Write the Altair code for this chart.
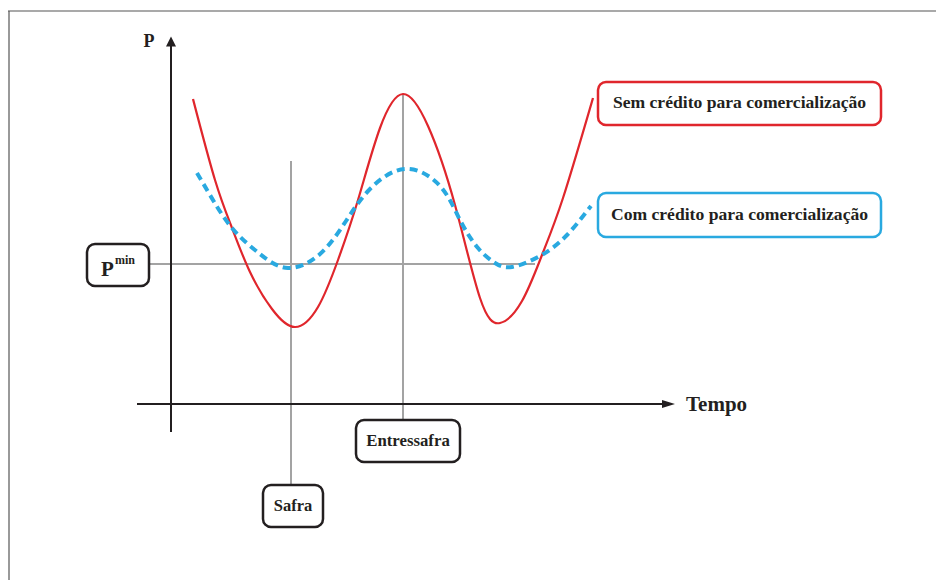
import altair as alt
import pandas as pd

# ---- diagram data (coordinates in reference-picture units: t to the right, p downward) ----
red_t = [193, 215, 232, 250, 272, 295, 318, 338, 358, 380, 403, 428, 455, 480, 500, 522, 542, 563, 593]
red_p = [99, 180, 228, 272, 309, 327, 307, 260, 200, 128, 94, 126, 205, 298, 323, 301, 255, 198, 98]

blue_t = [197, 210, 232, 260, 288, 320, 346, 370, 405, 440, 460, 478, 495, 512, 540, 566, 591]
blue_p = [173, 195, 228, 254, 268, 254, 221, 189, 169, 186, 220, 248, 263, 267, 256, 236, 206]

p_min = 264
t_safra = 291
t_entressafra = 403

labels = ["Sem crédito para comercialização", "Com crédito para comercialização",
          "Entressafra", "Safra", "Tempo", "P"]

RED = "#e0262c"
BLUE = "#29a9e0"
INK = "#231f20"
GRAY = "#a3a3a3"
FONT = "Liberation Serif"

xs = alt.Scale(domain=[8, 936], nice=False, zero=False)
ys = alt.Scale(domain=[8, 580], nice=False, zero=False, reverse=True)


def X(f):
    return alt.X(f, type="quantitative", scale=xs, axis=None)


def Y(f):
    return alt.Y(f, type="quantitative", scale=ys, axis=None)


# frame
frame = pd.DataFrame({"x": [8, 9], "x2": [936, 9], "y": [11, 11], "y2": [11, 580]})
frame_l = alt.Chart(frame).mark_rule(color="#555", strokeWidth=1.2).encode(
    x=X("x"), x2=alt.X2("x2"), y=Y("y"), y2=alt.Y2("y2"))

# gray guides
guides = pd.DataFrame({
    "x": [149, t_safra, t_entressafra],
    "x2": [535, t_safra, t_entressafra],
    "y": [p_min, 161, 94],
    "y2": [p_min, 485, 420],
})
guide_l = alt.Chart(guides).mark_rule(color=GRAY, strokeWidth=2).encode(
    x=X("x"), x2=alt.X2("x2"), y=Y("y"), y2=alt.Y2("y2"))

# axes
axes = pd.DataFrame({"x": [137, 171], "x2": [663, 171], "y": [404, 44], "y2": [404, 432]})
axes_l = alt.Chart(axes).mark_rule(color=INK, strokeWidth=2).encode(
    x=X("x"), x2=alt.X2("x2"), y=Y("y"), y2=alt.Y2("y2"))

arrow_up = alt.Chart(pd.DataFrame({"x": [171], "y": [41.5]})).mark_point(
    shape="M0,-1L1,1L-1,1Z", size=100, filled=True, color=INK, opacity=1
).encode(x=X("x"), y=Y("y"))
arrow_right = alt.Chart(pd.DataFrame({"x": [668.5], "y": [404]})).mark_point(
    shape="M1,0L-1,-0.62L-1,0.62Z", size=169, filled=True, color=INK, opacity=1
).encode(x=X("x"), y=Y("y"))

# curves
red_df = pd.DataFrame({"t": red_t, "p": red_p})
blue_df = pd.DataFrame({"t": blue_t, "p": blue_p})
red_line = alt.Chart(red_df).mark_line(color=RED, strokeWidth=2.2, interpolate="natural").encode(
    x=X("t"), y=Y("p"))
blue_line = alt.Chart(blue_df).mark_line(color=BLUE, strokeWidth=4, strokeDash=[8, 5],
                                         interpolate="natural").encode(x=X("t"), y=Y("p"))

# boxes
boxes = pd.DataFrame({
    "x": [598, 598, 356, 263, 87],
    "x2": [881, 881, 460, 323, 149],
    "y": [82, 193, 420, 485, 244],
    "y2": [125, 237, 462, 527, 286],
    "c": [RED, BLUE, INK, INK, INK],
})
box_l = alt.Chart(boxes).mark_rect(fill="white", strokeWidth=2.5, cornerRadius=8).encode(
    x=X("x"), x2=alt.X2("x2"), y=Y("y"), y2=alt.Y2("y2"),
    stroke=alt.Stroke("c:N", scale=None))

# texts
t_center = pd.DataFrame({
    "x": [739.5, 739.5, 408, 293],
    "y": [103, 215, 441, 506],
    "s": [17.6, 17.6, 16.8, 16.5],
    "label": labels[:4],
})
text_c = alt.Chart(t_center).mark_text(font=FONT, fontWeight="bold", color=INK,
                                       align="center", baseline="middle").encode(
    x=X("x"), y=Y("y"), text="label:N", size=alt.Size("s:Q", scale=None))

tempo = alt.Chart(pd.DataFrame({"x": [686], "y": [405], "label": [labels[4]]})).mark_text(
    font=FONT, fontWeight="bold", color=INK, align="left", baseline="middle", fontSize=21
).encode(x=X("x"), y=Y("y"), text="label:N")

p_lab = alt.Chart(pd.DataFrame({"x": [149], "y": [42], "label": [labels[5]]})).mark_text(
    font=FONT, fontWeight="bold", color=INK, align="center", baseline="middle", fontSize=18
).encode(x=X("x"), y=Y("y"), text="label:N")

pmin_p = alt.Chart(pd.DataFrame({"x": [101], "y": [276], "label": ["P"]})).mark_text(
    font=FONT, fontWeight="bold", color=INK, align="left", baseline="alphabetic", fontSize=21
).encode(x=X("x"), y=Y("y"), text="label:N")
pmin_s = alt.Chart(pd.DataFrame({"x": [115], "y": [264], "label": ["min"]})).mark_text(
    font=FONT, fontWeight="bold", color=INK, align="left", baseline="alphabetic", fontSize=12
).encode(x=X("x"), y=Y("y"), text="label:N")

chart = alt.layer(
    frame_l, guide_l, axes_l, arrow_up, arrow_right, red_line, blue_line,
    box_l, text_c, tempo, p_lab, pmin_p, pmin_s
).properties(
    width=928, height=572, autosize=alt.AutoSizeParams(type="none"), padding=0,
    background="white"
).configure_view(stroke=None)

chart.save("out.html", embed_options={"renderer": "svg", "actions": False})
